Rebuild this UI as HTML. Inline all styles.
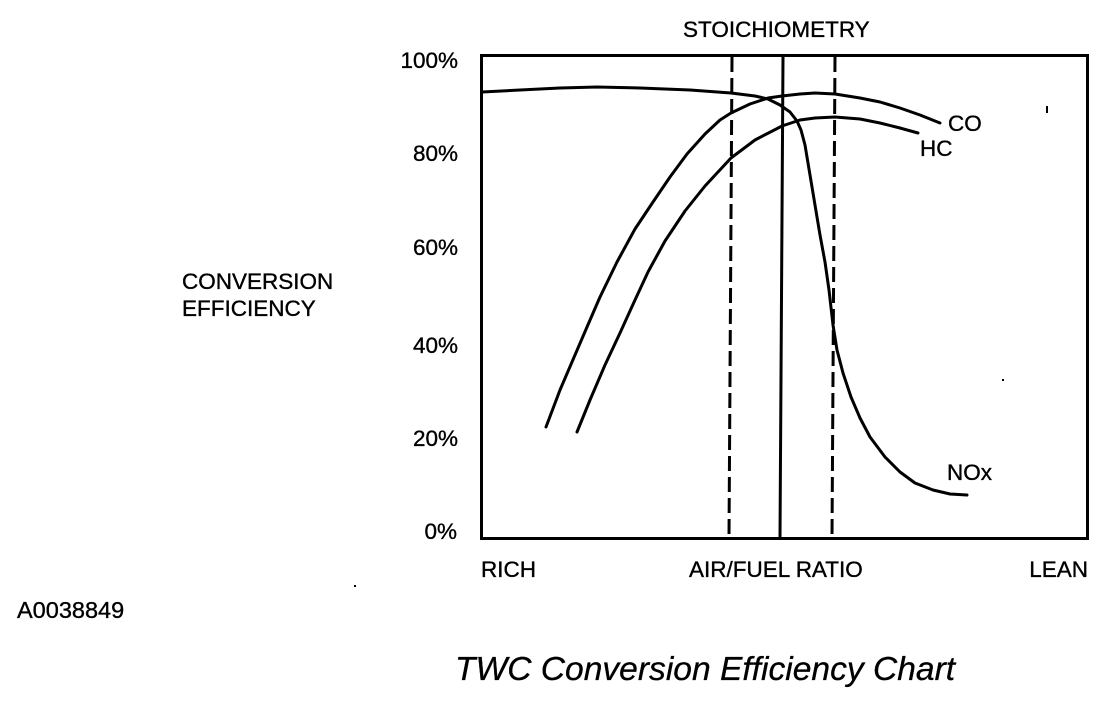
<!DOCTYPE html>
<html>
<head>
<meta charset="utf-8">
<style>
  html,body{margin:0;padding:0;background:#fff;}
  body{width:1120px;height:702px;overflow:hidden;}
  svg{display:block;}
  text{font-family:"Liberation Sans",Arial,sans-serif;fill:#000;stroke:#000;stroke-width:0.35px;}
</style>
</head>
<body>
<svg width="1120" height="702" viewBox="0 0 1120 702" xmlns="http://www.w3.org/2000/svg">
  <rect x="0" y="0" width="1120" height="702" fill="#fff"/>

  <!-- Title above -->
  <text x="683" y="37" font-size="22.5">STOICHIOMETRY</text>

  <!-- Y tick labels -->
  <g font-size="22.5" text-anchor="end">
    <text x="458" y="68">100%</text>
    <text x="458" y="161">80%</text>
    <text x="458" y="255">60%</text>
    <text x="458" y="353">40%</text>
    <text x="458" y="446">20%</text>
    <text x="457" y="539">0%</text>
  </g>

  <!-- Y axis label -->
  <text x="182" y="289" font-size="22.5">CONVERSION</text>
  <text x="182" y="316" font-size="22.5">EFFICIENCY</text>

  <!-- X labels -->
  <text x="481" y="577" font-size="22.5">RICH</text>
  <text x="689" y="577" font-size="22.5">AIR/FUEL RATIO</text>
  <text x="1088" y="577" font-size="22.5" text-anchor="end">LEAN</text>

  <text x="17" y="618" font-size="23.5">A0038849</text>

  <text x="455" y="680" font-size="33.6" font-style="italic" style="stroke-width:0.3px">TWC Conversion Efficiency Chart</text>

  <!-- Box -->
  <rect x="481.5" y="55.5" width="606" height="483" fill="none" stroke="#000" stroke-width="3"/>

  <!-- Stoichiometry lines -->
  <line x1="732" y1="57" x2="729" y2="537" stroke="#000" stroke-width="3" stroke-dasharray="15 6"/>
  <line x1="783" y1="57" x2="780" y2="537" stroke="#000" stroke-width="3"/>
  <line x1="835" y1="57" x2="832" y2="537" stroke="#000" stroke-width="3" stroke-dasharray="15 6"/>

  <!-- NOx curve -->
  <polyline fill="none" stroke="#000" stroke-width="3" stroke-linejoin="round" stroke-linecap="round"
    points="482,92 520,90 560,88 597,87 640,88 690,90 731,93 755,96 768,99 780,105 790,112 797,121 801,130 805,145 810,175 815,205 820,235 825,262 829,290 833,325 837,350 843,373 851,397 860,418 870,437 885,457 900,472 915,483 933,490 950,494 967,495"/>

  <!-- CO curve -->
  <polyline fill="none" stroke="#000" stroke-width="3" stroke-linejoin="round" stroke-linecap="round"
    points="546,427 560,390 575,355 587,327 600,297 617,262 635,229 653,202 670,177 687,154 705,134 720,120 731,113 750,104 768,98 782,96 800,94 815,93 835,94 860,98 880,102 900,108 920,115 940,123"/>

  <!-- HC curve -->
  <polyline fill="none" stroke="#000" stroke-width="3" stroke-linejoin="round" stroke-linecap="round"
    points="577,432 590,400 605,365 620,333 635,300 648,272 665,241 685,211 705,186 731,158 755,140 782,126 800,120 815,118 835,117 860,119 880,123 900,128 918,133"/>

  <!-- Curve labels -->
  <text x="948" y="131" font-size="22.5">CO</text>
  <text x="920" y="156" font-size="22.5">HC</text>
  <text x="947" y="480" font-size="22.5">NOx</text>

  <!-- small scan specks -->
  <rect x="1046" y="106" width="2" height="7" fill="#000"/>
  <rect x="1002" y="379" width="2" height="2" fill="#000"/>
  <rect x="354" y="585" width="2" height="2" fill="#000"/>
</svg>
</body>
</html>
